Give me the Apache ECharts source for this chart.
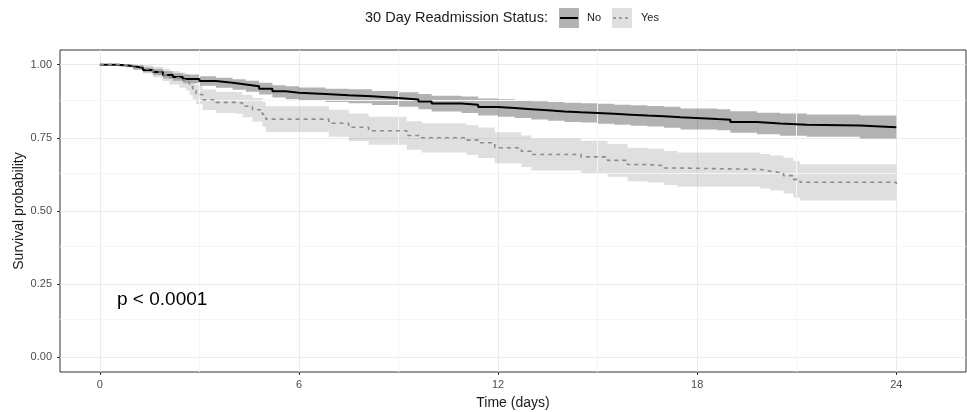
<!DOCTYPE html>
<html lang="en">
<head>
<meta charset="UTF-8">
<script src="https://cdn.jsdelivr.net/npm/echarts@6/dist/echarts.min.js"></script>
<title>km_readmission</title>
<style>
  html, body { margin: 0; padding: 0; background: #fff; }
  #chart { width: 967px; height: 412px; }
</style>
</head>
<body>
<div id="chart"></div>
<script>
// Kaplan-Meier estimates (time in days)
var noTime  = [0, 0.5, 0.8, 1.0, 1.3, 1.6, 1.9, 2.2, 2.5, 3.0, 3.5, 4.0, 4.4, 4.8, 5.2, 5.6, 6.0, 6.8, 7.5, 8.2, 9.0, 9.6, 10.0, 10.9, 11.4, 12.0, 12.5, 13.0, 13.5, 14.0, 14.5, 15.0, 15.5, 16.0, 16.5, 17.0, 17.5, 18.6, 19.0, 19.8, 20.5, 21.3, 22.9, 24.0];
var noSurv  = [1.0, 0.998, 0.995, 0.989, 0.982, 0.975, 0.965, 0.958, 0.951, 0.944, 0.938, 0.932, 0.926, 0.918, 0.909, 0.904, 0.900, 0.895, 0.892, 0.886, 0.881, 0.874, 0.867, 0.863, 0.855, 0.852, 0.848, 0.844, 0.840, 0.837, 0.835, 0.832, 0.829, 0.826, 0.824, 0.820, 0.814, 0.812, 0.804, 0.799, 0.795, 0.792, 0.786, 0.786];
var noLower = [1.0, 0.996, 0.991, 0.983, 0.974, 0.965, 0.953, 0.945, 0.936, 0.928, 0.921, 0.914, 0.907, 0.898, 0.888, 0.882, 0.878, 0.872, 0.868, 0.862, 0.856, 0.848, 0.840, 0.835, 0.826, 0.822, 0.818, 0.813, 0.808, 0.804, 0.802, 0.798, 0.795, 0.791, 0.789, 0.784, 0.778, 0.776, 0.767, 0.762, 0.757, 0.754, 0.748, 0.748];
var noUpper = [1.0, 1.0, 0.999, 0.995, 0.990, 0.985, 0.977, 0.971, 0.966, 0.960, 0.955, 0.950, 0.945, 0.938, 0.930, 0.926, 0.922, 0.918, 0.916, 0.910, 0.906, 0.900, 0.894, 0.891, 0.884, 0.882, 0.878, 0.875, 0.872, 0.870, 0.868, 0.866, 0.863, 0.861, 0.859, 0.856, 0.850, 0.848, 0.841, 0.836, 0.833, 0.830, 0.826, 0.826];

var yesTime  = [0, 0.6, 1.0, 1.3, 1.6, 1.9, 2.1, 2.4, 2.6, 2.7, 2.8, 2.9, 3.1, 3.5, 4.1, 4.3, 4.6, 4.9, 5.0, 6.9, 7.5, 8.1, 9.25, 9.7, 11.05, 11.4, 11.9, 12.7, 13.0, 14.5, 15.3, 15.9, 16.5, 17.0, 17.4, 19.9, 20.2, 20.6, 20.9, 21.1, 24.0];
var yesSurv  = [1.0, 0.997, 0.994, 0.985, 0.975, 0.965, 0.955, 0.947, 0.940, 0.925, 0.912, 0.898, 0.880, 0.871, 0.869, 0.858, 0.846, 0.830, 0.814, 0.800, 0.786, 0.774, 0.758, 0.750, 0.742, 0.733, 0.716, 0.704, 0.693, 0.685, 0.673, 0.659, 0.655, 0.647, 0.642, 0.636, 0.630, 0.621, 0.608, 0.598, 0.590];
var yesLower = [1.0, 0.991, 0.982, 0.970, 0.957, 0.944, 0.932, 0.921, 0.912, 0.895, 0.880, 0.865, 0.845, 0.835, 0.832, 0.820, 0.806, 0.788, 0.770, 0.754, 0.739, 0.726, 0.709, 0.700, 0.691, 0.681, 0.663, 0.650, 0.638, 0.630, 0.617, 0.602, 0.597, 0.589, 0.583, 0.577, 0.570, 0.560, 0.546, 0.536, 0.533];
var yesUpper = [1.0, 1.0, 1.0, 0.998, 0.993, 0.986, 0.978, 0.973, 0.968, 0.955, 0.944, 0.931, 0.915, 0.907, 0.906, 0.896, 0.886, 0.872, 0.858, 0.846, 0.833, 0.822, 0.807, 0.800, 0.793, 0.785, 0.769, 0.758, 0.748, 0.740, 0.729, 0.716, 0.713, 0.705, 0.700, 0.695, 0.690, 0.682, 0.670, 0.660, 0.655];

var xTicks = [0, 6, 12, 18, 24];
var xMinor = [3, 9, 15, 21];
var yTicks = [0, 0.25, 0.5, 0.75, 1.0];
var yMinor = [0.125, 0.375, 0.625, 0.875];

var font = 'Liberation Sans, Arial, sans-serif';

function pairs(t, v) {
    return t.map(function (x, i) { return [x, v[i]]; });
}

// step-shaped confidence band as one polygon
function bandSeries(t, lo, hi, fill, z) {
    return {
        type: 'custom',
        z: z,
        silent: true,
        data: [[0, 1]],
        encode: { x: 0, y: 1 },
        renderItem: function (params, api) {
            var pts = [];
            for (var i = 0; i < t.length; i++) {
                var tn = i < t.length - 1 ? t[i + 1] : t[i];
                pts.push(api.coord([t[i], hi[i]]));
                pts.push(api.coord([tn, hi[i]]));
            }
            for (var j = t.length - 1; j >= 0; j--) {
                var tn2 = j < t.length - 1 ? t[j + 1] : t[j];
                pts.push(api.coord([tn2, lo[j]]));
                pts.push(api.coord([t[j], lo[j]]));
            }
            return { type: 'polygon', shape: { points: pts }, style: { fill: fill } };
        }
    };
}

var chart = echarts.init(document.getElementById('chart'));

chart.setOption({
    animation: false,
    grid: {
        left: 60, right: 1, top: 50, bottom: 40, outerBoundsMode: 'none', containLabel: false,
        show: true, borderColor: '#333', borderWidth: 1, backgroundColor: 'transparent'
    },
    xAxis: {
        type: 'value', min: -1.2, max: 26.1,
        axisLine: { show: false, onZero: false },
        axisTick: { show: true, length: 3, lineStyle: { color: '#333' }, customValues: xTicks },
        axisLabel: { customValues: xTicks, color: '#4d4d4d', fontSize: 11, fontFamily: font, margin: 7 },
        splitLine: { show: true, lineStyle: { color: '#ebebeb', width: 1 } },
        name: 'Time (days)', nameLocation: 'middle', nameGap: 24,
        nameTextStyle: { color: '#1a1a1a', fontSize: 14, fontFamily: font }
    },
    yAxis: {
        type: 'value', min: -0.05, max: 1.05,
        axisLine: { show: false, onZero: false },
        axisTick: { show: true, length: 3, lineStyle: { color: '#333' }, customValues: yTicks },
        axisLabel: {
            customValues: yTicks, color: '#4d4d4d', fontSize: 11, fontFamily: font, margin: 8,
            formatter: function (v) { return v.toFixed(2); }
        },
        splitLine: { show: true, lineStyle: { color: '#ebebeb', width: 1 } },
        name: 'Survival probability', nameLocation: 'middle', nameGap: 34, nameRotate: 90,
        nameMoveOverlap: false,
        nameTextStyle: { color: '#1a1a1a', fontSize: 14, fontFamily: font }
    },
    graphic: [
        { type: 'text', z: 10, left: 365, top: 10, style: { text: '30 Day Readmission Status:', fill: '#1a1a1a', font: '14.5px ' + font } },
        { type: 'rect', z: 10, left: 559, top: 8, shape: { width: 20, height: 20 }, style: { fill: '#b3b3b3' } },
        { type: 'line', z: 11, shape: { x1: 560, y1: 18, x2: 578, y2: 18 }, style: { stroke: '#000', lineWidth: 2 } },
        { type: 'text', z: 10, left: 587, top: 12, style: { text: 'No', fill: '#1a1a1a', font: '11px ' + font } },
        { type: 'rect', z: 10, left: 612, top: 8, shape: { width: 20, height: 20 }, style: { fill: '#e0e0e0' } },
        { type: 'line', z: 11, shape: { x1: 613, y1: 18, x2: 631, y2: 18 }, style: { stroke: '#8c8c8c', lineWidth: 1.5, lineDash: [3, 3] } },
        { type: 'text', z: 10, left: 641, top: 12, style: { text: 'Yes', fill: '#1a1a1a', font: '11px ' + font } },
        { type: 'text', z: 10, left: 117, top: 290, style: { text: 'p < 0.0001', fill: '#000', font: '19px ' + font } }
    ],
    series: [
        {
            // minor grid lines
            type: 'line', data: [], z: 1, silent: true,
            markLine: {
                silent: true, symbol: 'none', animation: false, label: { show: false },
                lineStyle: { color: '#f5f5f5', width: 1, type: 'solid' },
                data: xMinor.map(function (v) { return { xAxis: v }; })
                    .concat(yMinor.map(function (v) { return { yAxis: v }; }))
            }
        },
        bandSeries(noTime, noLower, noUpper, 'rgba(0,0,0,0.3)', 2),
        bandSeries(yesTime, yesLower, yesUpper, 'rgba(150,150,150,0.3)', 3),
        {
            name: 'No', type: 'line', step: 'end', z: 5, showSymbol: false, silent: true,
            data: pairs(noTime, noSurv),
            lineStyle: { color: '#000', width: 2 }
        },
        {
            name: 'Yes', type: 'line', step: 'end', z: 6, showSymbol: false, silent: true,
            data: pairs(yesTime, yesSurv),
            lineStyle: { color: '#8c8c8c', width: 1.6, type: [4, 4] }
        }
    ]
});
</script>
</body>
</html>
